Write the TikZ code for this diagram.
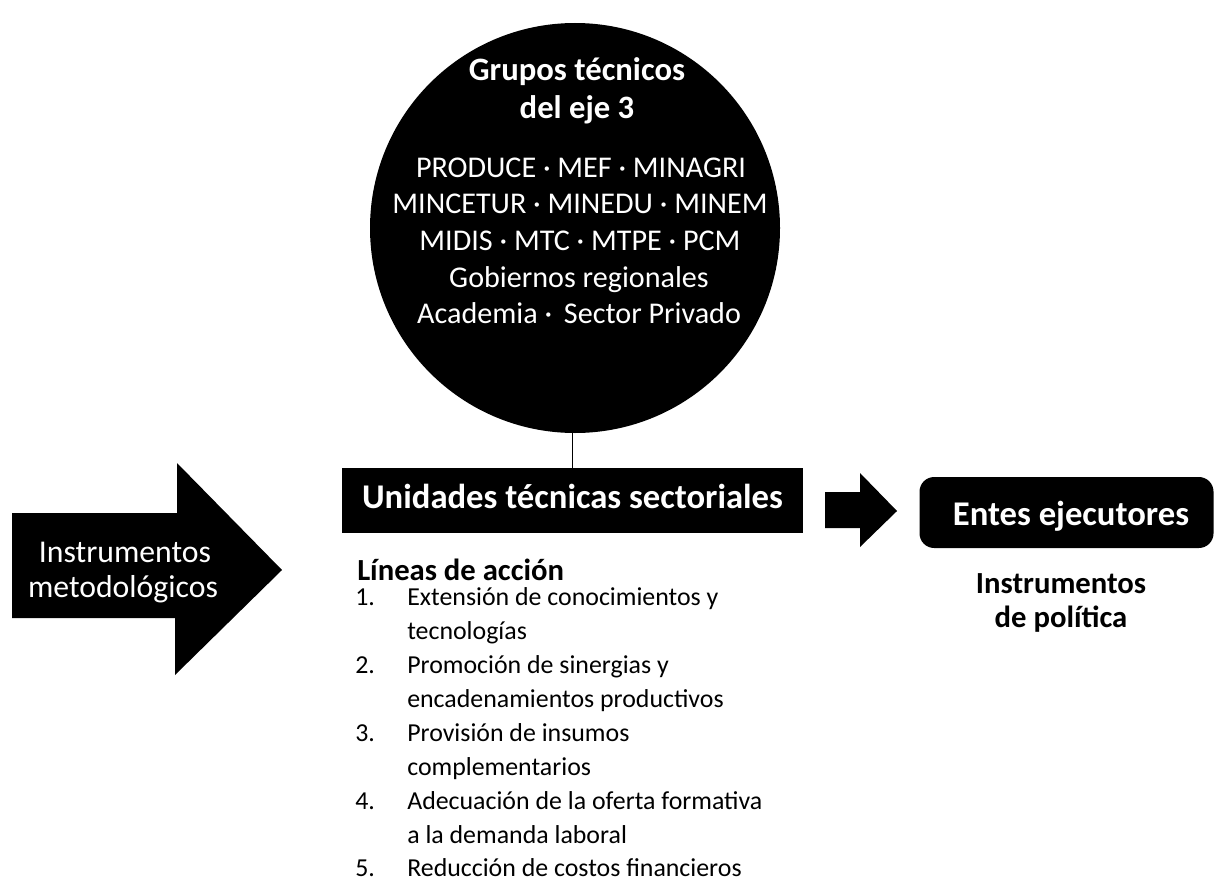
\documentclass[tikz,border=0pt]{standalone}
\usepackage{fontspec}
\setmainfont{Carlito}
\begin{document}
\begin{tikzpicture}[x=0.75pt,y=-0.75pt,
  blockfill/.style={fill=black},
  wtitle/.style={text=white,inner sep=0pt,anchor=base,font=\bfseries\fontsize{24.5pt}{29pt}\selectfont},
  wbody/.style={text=white,inner sep=0pt,anchor=base,font=\fontsize{22.6pt}{27pt}\selectfont},
  boxtext/.style={text=white,inner sep=0pt,anchor=base,font=\bfseries\fontsize{26pt}{31pt}\selectfont},
  arrowtext/.style={text=white,inner sep=0pt,anchor=base,font=\fontsize{23.8pt}{28pt}\selectfont},
  bhead/.style={text=black,inner sep=0pt,font=\bfseries\fontsize{23pt}{27pt}\selectfont},
  litem/.style={text=black,inner sep=0pt,anchor=base west,font=\fontsize{19.4pt}{23pt}\selectfont}]
\useasboundingbox (0,0) rectangle (1216,881);

% circle
\node[circle,fill=black,minimum size=307.5pt,inner sep=0pt] (grupos) at (575,228) {};
\node[wtitle] (g1) at (577,80) {Grupos técnicos};
\node[wtitle] (g2) at (577,118) {del eje 3};
\node[wbody] (g3) at (581,177) {PRODUCE · MEF · MINAGRI};
\node[wbody] (g4) at (580,213) {MINCETUR · MINEDU · MINEM};
\node[wbody] (g5) at (580,250) {MIDIS · MTC · MTPE · PCM};
\node[wbody] (g6) at (579,287) {Gobiernos regionales};
\node[wbody] (g7) at (579,323) {Academia ·\, Sector Privado};

% unidades box
\node[rectangle,fill=black,minimum width=345.75pt,minimum height=48.75pt,inner sep=0pt] (unidades) at (572.5,500.5) {};
\node[boxtext] (utext) at (572.5,508) {Unidades técnicas sectoriales};
\draw[line width=1pt] (unidades.north) -- (unidades.north |- grupos.south);

% big arrow
\fill[blockfill] (12,513) -- (177,513) -- (177,463) -- (282,570) -- (175,675) -- (175,618) -- (12,618) -- cycle;
\node[arrowtext] (inst1) at (125,562) {Instrumentos};
\node[arrowtext] (inst2) at (123,597) {metodológicos};

% small arrow
\fill[blockfill] (825,492) -- (860,492) -- (860,473) -- (897,511) -- (860,547) -- (860,528) -- (825,528) -- cycle;

% entes box
\node[rectangle,rounded corners=11pt,fill=black,minimum width=220.5pt,minimum height=53.25pt,inner sep=0pt] (entes) at (1066.5,512.5) {};
\node[boxtext] (etext) at (1071,525) {Entes ejecutores};
\node[bhead,anchor=base] (pol1) at (1061,593) {Instrumentos};
\node[bhead,anchor=base] (pol2) at (1061,627) {de política};

% lineas de accion
\node[bhead,anchor=base west] (lin) at (357,580) {Líneas de acción};
\node[litem] (n1) at (355,605) {1.};
\node[litem] (t1a) at (407,605) {Extensión de conocimientos y};
\node[litem] (t1b) at (407,639) {tecnologías};
\node[litem] (n2) at (355,673) {2.};
\node[litem] (t2a) at (407,673) {Promoción de sinergias y};
\node[litem] (t2b) at (407,707) {encadenamientos productivos};
\node[litem] (n3) at (355,741) {3.};
\node[litem] (t3a) at (407,741) {Provisión de insumos};
\node[litem] (t3b) at (407,775) {complementarios};
\node[litem] (n4) at (355,809) {4.};
\node[litem] (t4a) at (407,809) {Adecuación de la oferta formativa};
\node[litem] (t4b) at (407,843) {a la demanda laboral};
\node[litem] (n5) at (355,876) {5.};
\node[litem] (t5a) at (407,876) {Reducción de costos financieros};
\end{tikzpicture}
\end{document}
